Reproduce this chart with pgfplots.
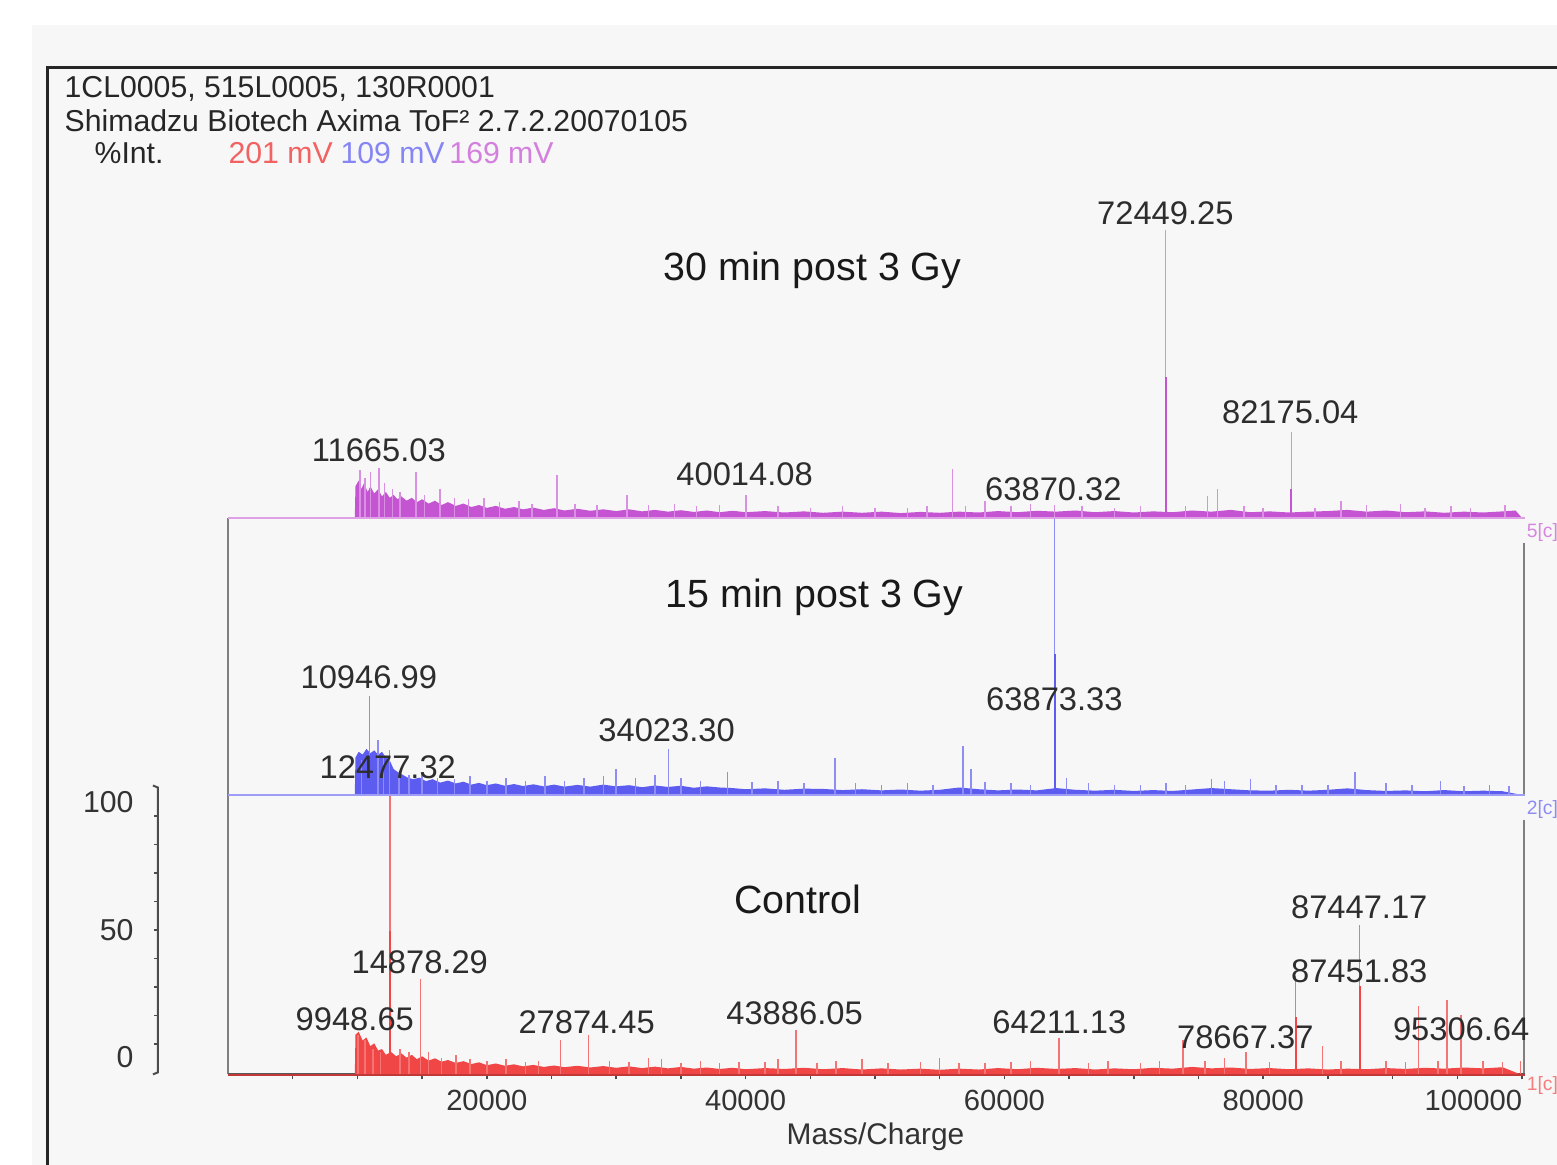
\documentclass[border=0pt]{standalone}
\usepackage{pgfplots}
\pgfplotsset{compat=1.18}
\usepackage{fontspec}
\setmainfont{Liberation Sans}
\definecolor{cred}{RGB}{240,70,70}
\definecolor{cblue}{RGB}{92,92,240}
\definecolor{cpurp}{RGB}{196,84,210}
\definecolor{bg}{RGB}{247,247,247}
\definecolor{lab}{RGB}{45,45,45}
\pgfplotsset{spec/.style={scale only axis, width=12.97cm, height=2.88cm,
  xmin=0, xmax=100232, ymin=0, ymax=100, clip=false, anchor=south west}}
\newcommand{\pk}{\fontsize{9.3}{11}\selectfont}
\newcommand{\ttl}{\fontsize{11.2}{13}\selectfont}
\newcommand{\hd}{\fontsize{8.6}{10}\selectfont}
\begin{document}
\begin{tikzpicture}
\useasboundingbox (0,0) rectangle (15.57cm,11.64cm);
\fill[white] (0,0) rectangle (15.57cm,11.64cm);
\begin{scope}[x=0.01cm,y=-0.01cm,yshift=11.64cm]
\fill[bg] (32,25) rectangle (1620,1220);
\draw[black!85, line width=0.03cm] (48,68) rectangle (1640,1240);
\draw[black!50, line width=0.025cm] (228,518) -- (228,1075);
\draw[black!50, line width=0.025cm] (1525,543) -- (1525,796);
\draw[black!50, line width=0.025cm] (1525,820) -- (1525,1075);
\draw[black!70, line width=0.02cm] (153,786) -- (158,788) -- (158,1073) -- (153,1075);
\foreach \k in {1,...,9} \draw[black!70, line width=0.015cm] (158,{788+\k*28.5}) -- ++(-4,0);
\node[anchor=east, text=black!80, font=\hd] at (146,803) {100};
\node[anchor=east, text=black!80, font=\hd] at (146,931) {50};
\node[anchor=east, text=black!80, font=\hd] at (146,1058) {0};
\node[anchor=west, text=black!85, font=\hd, inner sep=0pt] at (64,89) {1CL0005, 515L0005, 130R0001};
\node[anchor=west, text=black!85, font=\hd, inner sep=0pt] at (64,121) {Shimadzu Biotech Axima ToF² 2.7.2.20070105};
\node[anchor=west, text=black!85, font=\hd, inner sep=0pt] at (94,153) {\%Int.};
\node[anchor=west, text=cred!85, font=\hd, inner sep=0pt] at (228,153) {201 mV};
\node[anchor=west, text=cblue!75, font=\hd, inner sep=0pt] at (340,153) {109 mV};
\node[anchor=west, text=cpurp!75, font=\hd, inner sep=0pt] at (449,153) {169 mV};
\end{scope}

% ---------- Control (red) ----------
\begin{axis}[spec, at={(2.28cm,0.89cm)}, hide y axis, axis x line*=bottom,
  x axis line style={draw=black!65, line width=0.03cm},
  xtick={20000,40000,60000,80000,100000},
  xticklabels={20000,40000,60000,80000,\llap{100000}},
  minor xtick={5000,10000,15000,25000,30000,35000,45000,50000,55000,65000,70000,75000,85000,90000,95000},
  tick align=outside, major tick length=0.045cm, minor tick length=0.045cm,
  tick style={black!70, line width=0.015cm},
  scaled x ticks=false,
  xticklabel style={font=\fontsize{8.3}{10}\selectfont, text=black!80, yshift=0.02cm}]
\addplot[draw=none, fill=cred] table[row sep=\\]{x y\\
9800 0\\ 9850 14\\ 10100 15\\ 10400 12\\ 10700 13\\ 11000 10\\ 11300 11\\ 11600 8.5\\ 11900 9\\ 12200 7\\ 12600 8\\ 13000 6.5\\ 13400 7.5\\ 13800 6\\ 14200 7\\ 14600 5.5\\ 15000 6.5\\ 15500 5\\ 16000 5.8\\ 16500 4.6\\ 17000 5.2\\ 17600 4.2\\ 18200 4.8\\ 18800 3.8\\ 19400 4.4\\ 20000 3.4\\ 20700 4\\ 21400 3.2\\ 22100 3.7\\ 22800 3\\ 23600 3.5\\ 24400 2.8\\ 25200 3.3\\ 26000 2.7\\ 27000 3.2\\ 28000 2.6\\ 29000 3.1\\ 30000 2.5\\ 31000 3\\ 32000 2.4\\ 33000 2.9\\ 34000 2.3\\ 35000 2.8\\ 36000 2.2\\ 37000 2.6\\ 38000 2.1\\ 39000 2.5\\ 40000 2\\ 41500 2.4\\ 43000 2.1\\ 44500 2.5\\ 46000 2\\ 47500 2.4\\ 49000 1.9\\ 50500 2.3\\ 52000 1.9\\ 53500 2.2\\ 55000 1.8\\ 56500 2.2\\ 58000 1.9\\ 59500 2.4\\ 61000 2\\ 62500 2.5\\ 64000 2.1\\ 65500 2.4\\ 67000 1.9\\ 68500 2.3\\ 70000 2\\ 71500 2.5\\ 73000 2.2\\ 74500 2.8\\ 76000 2.3\\ 77500 2.6\\ 79000 2.1\\ 80500 2.4\\ 82000 2\\ 83500 2.3\\ 85000 1.9\\ 86500 2.2\\ 88000 2\\ 89500 2.4\\ 91000 2.1\\ 92500 2.5\\ 94000 2.2\\ 95500 2.6\\ 97000 2.3\\ 98500 2.7\\ 100000 0\\
} -- cycle;
\addplot[ycomb, cred!75, line width=0.015cm] table[row sep=\\]{x y\\
10050 14\\ 10600 12\\ 11200 9\\ 11800 8\\ 12520 98\\ 13300 9\\ 14000 8\\ 14878 33.5\\ 15500 8\\ 16500 6\\ 17600 7\\ 18700 5.5\\ 20000 5\\ 21500 5.5\\ 23000 4.5\\ 24000 5\\ 25700 12\\ 27874 14\\ 29500 5\\ 31000 4.5\\ 32500 6\\ 33500 5.5\\ 35000 4\\ 36500 5\\ 38000 4\\ 39500 4.5\\ 41500 4.5\\ 42500 5.5\\ 43886 15.5\\ 45500 4\\ 47000 5\\ 49000 5.5\\ 51000 4\\ 53500 4.5\\ 55000 6\\ 56500 4\\ 58500 4\\ 60500 4.5\\ 62000 5\\ 64211 13\\ 66500 4\\ 68000 5\\ 70500 4\\ 72000 5\\ 73800 12\\ 75500 5\\ 77000 6\\ 78667 8\\ 80500 4.5\\ 82500 34.5\\ 84600 10\\ 86000 5\\ 87447 52\\ 89500 5\\ 91000 4.5\\ 92000 24\\ 93500 5\\ 94200 26\\ 95300 21\\ 97000 5\\ 98500 4.5\\ 99900 5\\
};
\addplot[ycomb, cred, line width=0.02cm] table[row sep=\\]{x y\\
12520 50\\ 87447 31\\ 82500 20\\
};
\addplot[cred!80!black, line width=0.025cm] coordinates {(0,0) (100232,0)};
\end{axis}

% ---------- 15 min (blue) ----------
\begin{axis}[spec, at={(2.28cm,3.69cm)}, hide axis]
\addplot[draw=none, fill=cblue] table[row sep=\\]{x y\\
9800 0\\ 9850 13\\ 10100 15\\ 10400 14\\ 10700 16\\ 11000 14.5\\ 11300 15.5\\ 11600 14\\ 11900 15\\ 12200 13\\ 12500 12\\ 12800 9\\ 13100 8\\ 13500 7\\ 13900 6\\ 14300 5.5\\ 14800 6\\ 15300 4.8\\ 15800 5.5\\ 16400 4.3\\ 17000 5\\ 17600 4\\ 18200 4.6\\ 18800 3.6\\ 19400 4.2\\ 20000 3.4\\ 20700 4\\ 21400 3.2\\ 22100 3.8\\ 22800 3.1\\ 23600 3.7\\ 24400 3\\ 25200 3.6\\ 26000 2.9\\ 27000 3.5\\ 28000 2.9\\ 29000 3.6\\ 30000 3\\ 31000 3.4\\ 32000 2.7\\ 33000 3.3\\ 34000 2.8\\ 35000 3.2\\ 36000 2.5\\ 37000 3\\ 38000 2.6\\ 39000 2.4\\ 40000 2\\ 41500 2.3\\ 43000 1.8\\ 44500 2.2\\ 46000 2.1\\ 47500 1.7\\ 49000 2\\ 50500 1.6\\ 52000 1.9\\ 53500 1.5\\ 55000 1.8\\ 56500 2.6\\ 58000 2\\ 59500 1.6\\ 61000 1.9\\ 62500 1.6\\ 64000 2.4\\ 65500 1.8\\ 67000 1.5\\ 68500 1.8\\ 70000 1.4\\ 71500 1.7\\ 73000 1.4\\ 74500 1.9\\ 76000 2.4\\ 77500 2\\ 79000 1.6\\ 80500 1.5\\ 82000 1.8\\ 83500 1.5\\ 85000 1.8\\ 86500 2.3\\ 88000 1.7\\ 89500 1.4\\ 91000 1.6\\ 92500 1.3\\ 94000 1.7\\ 95500 1.3\\ 97000 1.5\\ 98500 1.3\\ 100000 0\\
} -- cycle;
\addplot[ycomb, cblue!70, line width=0.015cm] table[row sep=\\]{x y\\
10300 12\\ 10947 34.5\\ 11600 19\\ 12000 14\\ 12477 15.5\\ 13200 8\\ 14000 7\\ 15000 7.5\\ 16200 6\\ 17500 5.5\\ 18700 6.5\\ 20000 5\\ 21500 6\\ 23000 5\\ 24500 6.5\\ 26000 5\\ 27500 6\\ 29000 6.5\\ 30000 9\\ 31500 6\\ 33000 7\\ 34023 16\\ 35000 6\\ 36500 5\\ 38600 8\\ 40500 4.5\\ 42500 5\\ 44500 4\\ 46900 13\\ 48500 4\\ 50500 3.5\\ 52500 4\\ 54500 3.5\\ 56800 17\\ 57400 9\\ 58500 4.5\\ 60500 4\\ 62000 3.5\\ 63873 98\\ 64800 6\\ 66500 4\\ 68500 3.5\\ 70500 3.5\\ 72500 4\\ 74000 3.5\\ 76000 5.5\\ 77000 5\\ 79000 5.5\\ 81000 3.5\\ 83000 3.5\\ 85000 3.5\\ 87100 8\\ 89500 4\\ 91500 3.5\\ 93700 5\\ 95500 3\\ 97500 3.5\\ 99000 3\\
};
\addplot[ycomb, cblue, line width=0.02cm] table[row sep=\\]{x y\\
63873 49\\ 10947 12\\
};
\addplot[cblue!60, line width=0.025cm] coordinates {(0,0) (100232,0)};
\end{axis}

% ---------- 30 min (purple) ----------
\begin{axis}[spec, at={(2.28cm,6.46cm)}, hide axis]
\addplot[draw=none, fill=cpurp] table[row sep=\\]{x y\\
9800 0\\ 9850 11\\ 10100 13\\ 10300 10\\ 10500 12\\ 10800 9\\ 11000 11\\ 11300 8.5\\ 11600 10\\ 11900 7.5\\ 12200 9\\ 12500 7\\ 12800 8\\ 13100 6.5\\ 13400 7.5\\ 13800 6\\ 14200 7\\ 14600 5.5\\ 15000 6.5\\ 15500 5\\ 16000 6\\ 16500 4.5\\ 17000 5.5\\ 17600 4.2\\ 18200 5\\ 18800 3.8\\ 19400 4.5\\ 20000 3.5\\ 20700 4.2\\ 21400 3.2\\ 22100 3.8\\ 22800 3\\ 23600 3.6\\ 24400 2.8\\ 25200 3.4\\ 26000 2.6\\ 27000 3.2\\ 28000 2.5\\ 29000 3\\ 30000 2.4\\ 31000 3\\ 32000 2.3\\ 33000 2.8\\ 34000 2.2\\ 35000 2.7\\ 36000 2.1\\ 37000 2.6\\ 38000 2\\ 39000 2.5\\ 40000 2\\ 41500 2.4\\ 43000 1.9\\ 44500 2.3\\ 46000 1.8\\ 47500 2.2\\ 49000 1.8\\ 50500 2.2\\ 52000 1.7\\ 53500 2.1\\ 55000 1.8\\ 56500 2.2\\ 58000 1.9\\ 59500 2.4\\ 61000 2\\ 62500 2.5\\ 64000 2.2\\ 65500 2.6\\ 67000 2\\ 68500 2.4\\ 70000 1.9\\ 71500 2.3\\ 73000 2\\ 74500 2.6\\ 76000 2.2\\ 77500 2.8\\ 79000 2\\ 80500 2.3\\ 82000 1.9\\ 83500 2.2\\ 85000 2.4\\ 86500 2.8\\ 88000 2.2\\ 89500 2.6\\ 91000 2\\ 92500 2.3\\ 94000 1.8\\ 95500 2.2\\ 97000 1.9\\ 98500 2.3\\ 99500 2.6\\ 100000 0\\
} -- cycle;
\addplot[ycomb, cpurp!65, line width=0.015cm] table[row sep=\\]{x y\\
10200 16.5\\ 10600 14\\ 11000 16\\ 11665 17.2\\ 12100 12\\ 12700 10\\ 13300 9\\ 14530 16\\ 15200 8\\ 16400 10\\ 17500 7\\ 18600 6.5\\ 19800 7\\ 21000 5.5\\ 22500 6\\ 23500 5\\ 25430 15\\ 26800 5\\ 28500 4.5\\ 30840 8\\ 32500 4.5\\ 34500 5\\ 36200 4\\ 38000 4.5\\ 40014 8\\ 42500 4\\ 45000 3.5\\ 47500 4\\ 50000 3.5\\ 52500 3.5\\ 54000 4\\ 55970 17\\ 57000 4\\ 58500 6\\ 60500 4\\ 62000 5\\ 63870 4.5\\ 66000 4\\ 68500 3.5\\ 70500 4\\ 72449 100\\ 74000 4\\ 75700 7.5\\ 76450 10\\ 78500 4\\ 80000 3.5\\ 82175 30\\ 84000 3.5\\ 86000 6\\ 88000 4.5\\ 90600 5\\ 92500 3.5\\ 94500 4\\ 96000 3.5\\ 98700 4.5\\
};
\addplot[ycomb, cpurp, line width=0.02cm] table[row sep=\\]{x y\\
72449 49\\ 82175 10\\
};
\addplot[cpurp!55, line width=0.025cm] coordinates {(0,0) (100232,0)};
\end{axis}

\begin{scope}[x=0.01cm,y=-0.01cm,yshift=11.64cm]
\node[text=black!90, font=\ttl] at (813,270) {30 min post 3 Gy};
\node[text=black!90, font=\ttl] at (815,598) {15 min post 3 Gy};
\node[text=black!90, font=\ttl] at (798,900) {Control};
\node[text=lab, font=\pk] at (1166,213) {72449.25};
\node[text=lab, font=\pk] at (1291,413) {82175.04};
\node[text=lab, font=\pk] at (379,451) {11665.03};
\node[text=lab, font=\pk] at (745,475) {40014.08};
\node[text=lab, font=\pk] at (1054,490) {63870.32};
\node[text=lab, font=\pk] at (369,678) {10946.99};
\node[text=lab, font=\pk] at (1055,700) {63873.33};
\node[text=lab, font=\pk] at (667,731) {34023.30};
\node[text=lab, font=\pk] at (388,768) {12477.32};
\node[text=lab, font=\pk] at (1360,908) {87447.17};
\node[text=lab, font=\pk] at (420,963) {14878.29};
\node[text=lab, font=\pk] at (1360,972) {87451.83};
\node[text=lab, font=\pk] at (355,1020) {9948.65};
\node[text=lab, font=\pk] at (587,1023) {27874.45};
\node[text=lab, font=\pk] at (795,1014) {43886.05};
\node[text=lab, font=\pk] at (1060,1023) {64211.13};
\node[text=lab, font=\pk] at (1246,1038) {78667.37};
\node[text=lab, font=\pk] at (1462,1030) {95306.64};
\node[text=black!80, font=\fontsize{8.5}{10}\selectfont] at (876,1137) {Mass/Charge};
\node[anchor=west, inner sep=0pt, text=cpurp!70, font=\fontsize{5.5}{6}\selectfont] at (1527,533) {5[c]};
\node[anchor=west, inner sep=0pt, text=cblue!70, font=\fontsize{5.5}{6}\selectfont] at (1527,810) {2[c]};
\node[anchor=west, inner sep=0pt, text=cred!70, font=\fontsize{5.5}{6}\selectfont] at (1527,1086) {1[c]};
\end{scope}
\end{tikzpicture}
\end{document}
